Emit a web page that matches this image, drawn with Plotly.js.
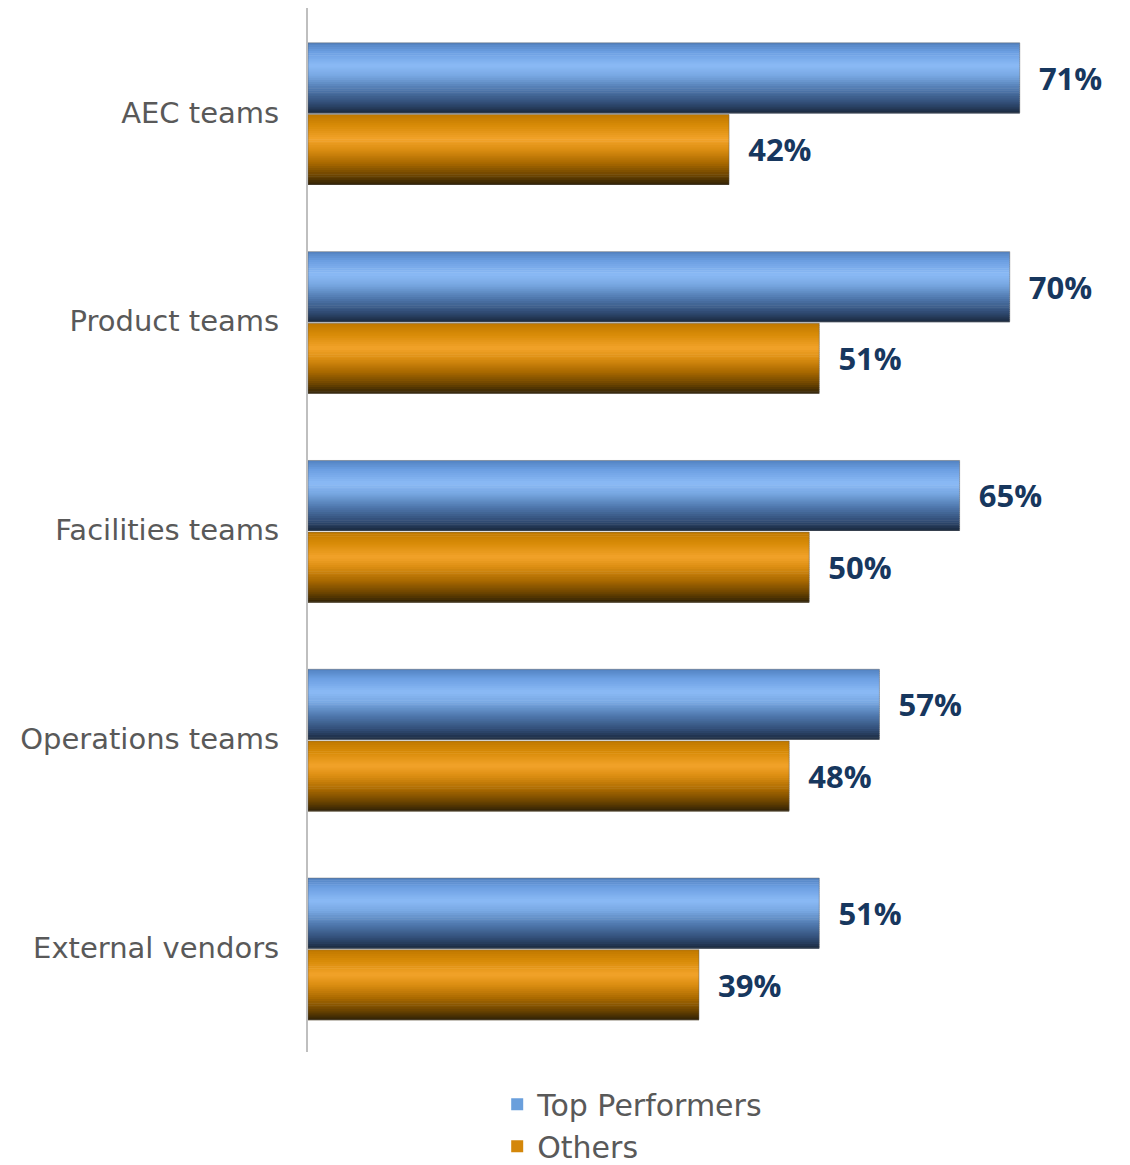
<!DOCTYPE html>
<html>
<head>
<meta charset="utf-8">
<script src="https://cdn.plot.ly/plotly-3.0.1.min.js"></script>
<style>html,body{margin:0;padding:0;background:#fff;}#chart{width:1130px;height:1165px;}</style>
</head>
<body>
<div id="chart"></div>
<script>
const categories = ['AEC teams', 'Product teams', 'Facilities teams', 'Operations teams', 'External vendors'];
const topPerformers = [71, 70, 65, 57, 51];
const others = [42, 51, 50, 48, 39];
const seriesNames = ['Top Performers', 'Others'];

const blueStops = [[0, '#5585c4'], [0.12, '#6c9fe2'], [0.32, '#8bbaf6'], [0.47, '#78a8e2'], [0.67, '#4f78ad'], [0.86, '#33507a'], [1, '#1d2e46']];
const orangeStops = [[0, '#c27a00'], [0.15, '#d88b08'], [0.35, '#f2a32a'], [0.5, '#dc8e12'], [0.7, '#a96900'], [0.88, '#6c4400'], [1, '#382605']];

function hex2rgb(h) { return [1, 3, 5].map(i => parseInt(h.substr(i, 2), 16)); }
function colorAt(stops, t) {
  for (let i = 0; i < stops.length - 1; i++) {
    const [t0, c0] = stops[i], [t1, c1] = stops[i + 1];
    if (t >= t0 && t <= t1) {
      const f = (t - t0) / (t1 - t0);
      const a = hex2rgb(c0), b = hex2rgb(c1);
      return 'rgb(' + a.map((v, k) => Math.round(v + (b[k] - v) * f)).join(',') + ')';
    }
  }
  return stops[stops.length - 1][1];
}

const barW = 0.335;
const N = 34;
const traces = [];
function addSeries(values, stops, base) {
  for (let i = 0; i < N; i++) {
    traces.push({
      type: 'bar', orientation: 'h', y: categories, x: values,
      offset: base + i * barW / N, width: barW / N * 1.3,
      marker: { color: colorAt(stops, i / (N - 1)), line: { width: 0 } },
      showlegend: false, hoverinfo: 'skip'
    });
  }
  traces.push({
    type: 'bar', orientation: 'h', y: categories, x: values,
    offset: base, width: barW,
    marker: { color: 'rgba(0,0,0,0)', line: { width: 1, color: 'rgba(90,90,90,0.45)' } },
    text: values.map(v => '\u00a0\u00a0' + v + '%'), textposition: 'outside', constraintext: 'none', cliponaxis: false,
    textfont: { family: 'Open Sans', size: 31, color: '#17375e', weight: 'bold' },
    showlegend: false, hoverinfo: 'skip'
  });
}
addSeries(topPerformers, blueStops, -barW + 0.002);
addSeries(others, orangeStops, 0.01);

traces.push({ type: 'bar', orientation: 'h', y: [categories[0]], x: [0], name: seriesNames[0], marker: { color: '#6a9fdc' }, legendgroup: 'a', showlegend: true, hoverinfo: 'skip' });
traces.push({ type: 'bar', orientation: 'h', y: [categories[0]], x: [0], name: seriesNames[1], marker: { color: '#d4870a' }, legendgroup: 'b', showlegend: true, hoverinfo: 'skip' });

const layout = {
  width: 1130, height: 1165,
  margin: { l: 308, r: 20, t: 8, b: 113, autoexpand: false },
  barmode: 'overlay',
  paper_bgcolor: '#fff', plot_bgcolor: '#fff',
  font: { family: 'DejaVu Sans', size: 28, color: '#595959' },
  xaxis: { range: [0, 80], visible: false, showgrid: false, zeroline: false },
  yaxis: {
    autorange: 'reversed', type: 'category', showline: true, linecolor: '#bfbfbf', linewidth: 2,
    ticks: '', ticklabelstandoff: 21, showgrid: false, zeroline: false,
    tickfont: { family: 'DejaVu Sans', size: 29, color: '#595959' }
  },
  showlegend: true,
  legend: {
    orientation: 'v', xref: 'container', yref: 'container', x: 0.44, xanchor: 'left', y: 0.0745, yanchor: 'top',
    font: { family: 'DejaVu Sans', size: 30, color: '#595959' },
    traceorder: 'grouped', tracegroupgap: 0, itemwidth: 30, maxheight: 300
  }
};

Plotly.newPlot('chart', traces, layout, { staticPlot: true });
</script>
</body>
</html>
